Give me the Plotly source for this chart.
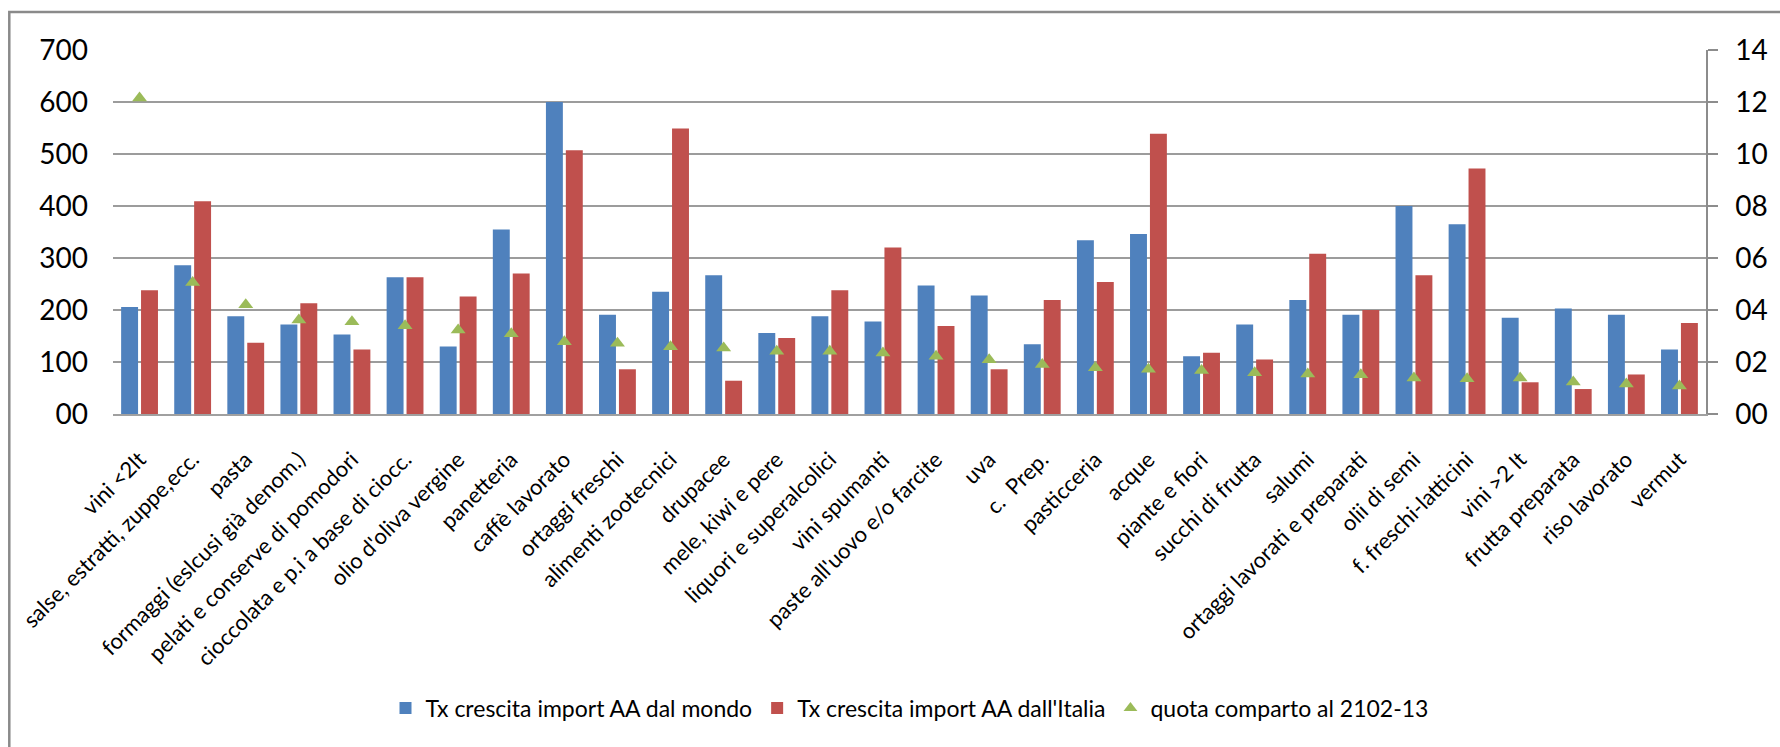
import plotly.graph_objects as go

categories = [
    "vini <2lt", "salse, estratti, zuppe,ecc.", "pasta", "formaggi (eslcusi già denom.)",
    "pelati e conserve di pomodori", "cioccolata e p.i a base di ciocc.", "olio d'oliva vergine",
    "panetteria", "caffè lavorato", "ortaggi freschi", "alimenti zootecnici", "drupacee",
    "mele, kiwi e pere", "liquori e superalcolici", "vini spumanti", "paste all'uovo e/o farcite",
    "uva", "c.  Prep.", "pasticceria", "acque", "piante e fiori", "succhi di frutta", "salumi",
    "ortaggi lavorati e preparati", "olii di semi", "f. freschi-latticini", "vini >2 lt",
    "frutta preparata", "riso lavorato", "vermut",
]

import_mondo = [206, 286, 188, 172, 153, 263, 130, 355, 600, 191, 235, 267, 156, 188, 178,
                247, 228, 134, 334, 346, 111, 172, 219, 191, 400, 365, 185, 203, 191, 124]

import_italia = [238, 409, 137, 213, 124, 263, 226, 270, 507, 86, 549, 64, 146, 238, 320,
                 169, 86, 219, 254, 539, 118, 105, 308, 200, 267, 472, 61, 48, 76, 175]

quota_comparto = [12.15, 5.06, 4.2, 3.62, 3.55, 3.39, 3.23, 3.09, 2.78, 2.72, 2.59, 2.54, 2.41,
                  2.41, 2.35, 2.22, 2.09, 1.90, 1.78, 1.72, 1.67, 1.59, 1.54, 1.51, 1.38, 1.36,
                  1.38, 1.23, 1.15, 1.08]

left_ticks = [0, 100, 200, 300, 400, 500, 600, 700]
left_ticktext = ["00", "100", "200", "300", "400", "500", "600", "700"]
right_ticks = [0, 2, 4, 6, 8, 10, 12, 14]
right_ticktext = ["00", "02", "04", "06", "08", "10", "12", "14"]

FONT = "Lato, 'Liberation Sans', Arial, sans-serif"
GRID = "#9c9c9c"

fig = go.Figure()
fig.add_trace(go.Bar(x=categories, y=import_mondo, name="Tx crescita import AA dal mondo",
                     marker=dict(color="#4F81BD", line=dict(width=0))))
fig.add_trace(go.Bar(x=categories, y=import_italia, name="Tx crescita import AA dall'Italia",
                     marker=dict(color="#C0504D", line=dict(width=0))))
fig.add_trace(go.Scatter(x=categories, y=quota_comparto, name="quota comparto al 2102-13",
                         mode="markers", yaxis="y2",
                         marker=dict(symbol="triangle-up", size=13, color="#9BBB59")))

# outer chart frame (left and top edges visible)
fig.add_shape(type="rect", xref="paper", yref="paper",
              x0=-0.0651, x1=1.3, y0=-1.5, y1=1.1044,
              line=dict(color="#8a8a8a", width=2.5), layer="below")

fig.update_layout(
    width=1780, height=747,
    margin=dict(l=113, r=70, t=50, b=333),
    paper_bgcolor="white", plot_bgcolor="white",
    font=dict(family=FONT, color="#000000"),
    barmode="group", bargap=0.25, bargroupgap=0.15,
    showlegend=True,
    legend=dict(orientation="h", x=0.5, xanchor="center", y=-0.808, yanchor="middle",
                font=dict(size=23, family=FONT), itemsizing="constant"),
    xaxis=dict(
        range=[-0.5, len(categories) - 0.5],
        tickangle=-45, tickfont=dict(size=22, family=FONT),
        showline=True, linecolor="#a0a0a0", linewidth=2,
        showgrid=False, ticks="", ticklabelstandoff=22,
    ),
    yaxis=dict(
        range=[0, 700], tickvals=left_ticks, ticktext=left_ticktext,
        tickfont=dict(size=28, family=FONT),
        showgrid=True, gridcolor=GRID, gridwidth=1.5,
        zeroline=False, showline=False, ticks="", ticklabelstandoff=24,
    ),
    yaxis2=dict(
        range=[0, 14], tickvals=right_ticks, ticktext=right_ticktext,
        overlaying="y", side="right",
        tickfont=dict(size=28, family=FONT),
        showgrid=False, zeroline=False,
        showline=True, linecolor="#8c8c8c", linewidth=1.5,
        ticks="outside", ticklen=10, tickcolor="#8c8c8c", tickwidth=1.5,
        ticklabelstandoff=12,
    ),
)

fig.write_html("out.html")
